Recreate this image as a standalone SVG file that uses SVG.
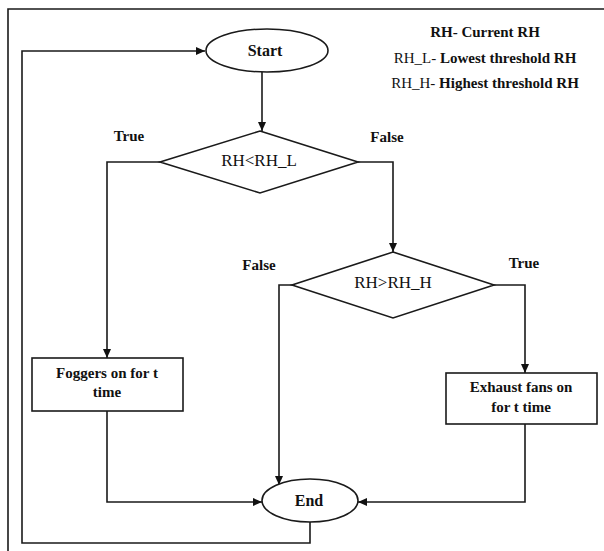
<svg xmlns="http://www.w3.org/2000/svg" width="604" height="551" viewBox="0 0 604 551">
<style>
.ln{fill:none;stroke:#1a1a1a;stroke-width:1.6}
.sh{fill:#fff;stroke:#1a1a1a;stroke-width:1.6}
.t{font-family:'Liberation Serif',serif;fill:#111;text-anchor:middle}
.b{font-weight:bold}
</style>
<defs>
<marker id="ah" viewBox="0 0 9 8" refX="9" refY="4" markerWidth="9" markerHeight="8" markerUnits="userSpaceOnUse" orient="auto">
<path d="M0,0 L9,4 L0,8 z" fill="#111"/>
</marker>
</defs>
<rect width="604" height="551" fill="#fff"/>
<path class="ln" d="M8,551 V9 H604"/>
<g id="legend">
<text class="t b" x="485" y="37" font-size="15">RH- Current RH</text>
<text class="t" x="485" y="63" font-size="15"><tspan>RH_L- </tspan><tspan class="b">Lowest threshold RH</tspan></text>
<text class="t" x="485" y="88" font-size="15"><tspan>RH_H- </tspan><tspan class="b">Highest threshold RH</tspan></text>
</g>
<g id="connectors">
<path class="ln" d="M262,72 V131" marker-end="url(#ah)"/>
<path class="ln" d="M160,162 H107 V358" marker-end="url(#ah)"/>
<path class="ln" d="M358,162 H393 V252" marker-end="url(#ah)"/>
<path class="ln" d="M292,285 H279 V485" marker-end="url(#ah)"/>
<path class="ln" d="M494,285 H525 V373" marker-end="url(#ah)"/>
<path class="ln" d="M107,411 V502 H262" marker-end="url(#ah)"/>
<path class="ln" d="M525,424 V502 H358" marker-end="url(#ah)"/>
<path class="ln" d="M310,522 V543 H22 V51 H205" marker-end="url(#ah)"/>
<text class="t b" x="129" y="141" font-size="15">True</text>
<text class="t b" x="387" y="142" font-size="15">False</text>
<text class="t b" x="259" y="270" font-size="15">False</text>
<text class="t b" x="524" y="268" font-size="15">True</text>
</g>
<g id="start">
<ellipse class="sh" cx="267" cy="50.5" rx="61" ry="21.5"/>
<text class="t b" x="265" y="56" font-size="16">Start</text>
</g>
<g id="d1">
<polygon class="sh" points="260,131 358,162 260,193 160,162"/>
<text class="t" x="259" y="166" font-size="17">RH&lt;RH_L</text>
</g>
<g id="d2">
<polygon class="sh" points="393,252 494,285 393,318 292,285"/>
<text class="t" x="393" y="288" font-size="17">RH&gt;RH_H</text>
</g>
<g id="foggers">
<rect class="sh" x="32" y="358" width="151" height="53"/>
<text class="t b" x="107" y="378" font-size="15">Foggers on for t</text>
<text class="t b" x="107" y="397" font-size="15">time</text>
</g>
<g id="exhaust">
<rect class="sh" x="446" y="373" width="151" height="51"/>
<text class="t b" x="521" y="392" font-size="15">Exhaust fans on</text>
<text class="t b" x="521" y="412" font-size="15">for t time</text>
</g>
<g id="end">
<ellipse class="sh" cx="310" cy="500.5" rx="48" ry="21.5"/>
<text class="t b" x="309" y="506" font-size="16">End</text>
</g>
</svg>
